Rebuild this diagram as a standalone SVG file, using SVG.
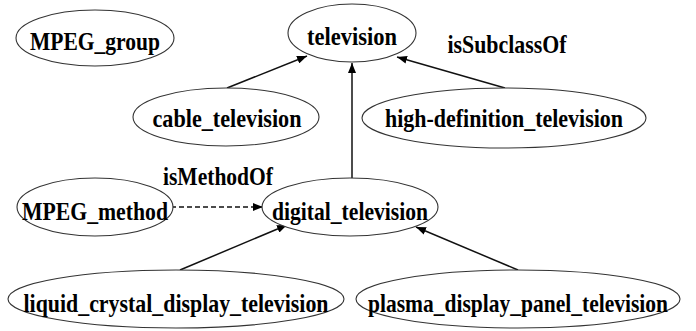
<svg xmlns="http://www.w3.org/2000/svg" width="696" height="331" viewBox="0 0 696 331">
<style>
.n ellipse{fill:#fff;stroke:#333;stroke-width:1.1}
text{font-family:"Liberation Serif","Times New Roman",serif;font-weight:bold;font-size:25px;fill:#000;text-anchor:middle}
.e path{fill:none;stroke:#111;stroke-width:1.5}
.e .d{stroke-dasharray:5,3}
</style>
<defs>
<marker id="ah" markerWidth="10" markerHeight="8" refX="10" refY="4" orient="auto" markerUnits="userSpaceOnUse">
<path d="M0,0 L10,4 L0,8 Z" fill="#000"/>
</marker>
</defs>
<rect width="696" height="331" fill="#fff"/>
<g class="e" id="edges">
<path d="M227,88 L307,56" marker-end="url(#ah)"/>
<path d="M505,88 L397,57" marker-end="url(#ah)"/>
<path d="M352,178 L352,63" marker-end="url(#ah)"/>
<path class="d" d="M171,207 L263,207" marker-end="url(#ah)"/>
<path d="M180,270 L287,225" marker-end="url(#ah)"/>
<path d="M518,270 L416,227" marker-end="url(#ah)"/>
<text x="218" y="185" textLength="110" lengthAdjust="spacingAndGlyphs">isMethodOf</text>
<text x="507" y="53" textLength="119" lengthAdjust="spacingAndGlyphs">isSubclassOf</text>
</g>
<g class="n" id="MPEG_group"><ellipse cx="95" cy="38" rx="79" ry="28"/><text x="95" y="50" textLength="130" lengthAdjust="spacingAndGlyphs">MPEG_group</text></g>
<g class="n" id="television"><ellipse cx="352" cy="33" rx="64" ry="29"/><text x="352" y="45" textLength="90" lengthAdjust="spacingAndGlyphs">television</text></g>
<g class="n" id="cable_television"><ellipse cx="226" cy="117" rx="93" ry="29"/><text x="227" y="127" textLength="149" lengthAdjust="spacingAndGlyphs">cable_television</text></g>
<g class="n" id="high_definition_television"><ellipse cx="504" cy="118" rx="142" ry="30"/><text x="504" y="127" textLength="238" lengthAdjust="spacingAndGlyphs">high-definition_television</text></g>
<g class="n" id="MPEG_method"><ellipse cx="95" cy="207" rx="78" ry="29"/><text x="95" y="220" textLength="146" lengthAdjust="spacingAndGlyphs">MPEG_method</text></g>
<g class="n" id="digital_television"><ellipse cx="350" cy="207" rx="88" ry="29"/><text x="350" y="220" textLength="156" lengthAdjust="spacingAndGlyphs">digital_television</text></g>
<g class="n" id="liquid_crystal_display_television"><ellipse cx="176" cy="299" rx="168" ry="29"/><text x="176" y="312" textLength="305" lengthAdjust="spacingAndGlyphs">liquid_crystal_display_television</text></g>
<g class="n" id="plasma_display_panel_television"><ellipse cx="518" cy="299" rx="162" ry="29"/><text x="518" y="312" textLength="300" lengthAdjust="spacingAndGlyphs">plasma_display_panel_television</text></g>
</svg>
